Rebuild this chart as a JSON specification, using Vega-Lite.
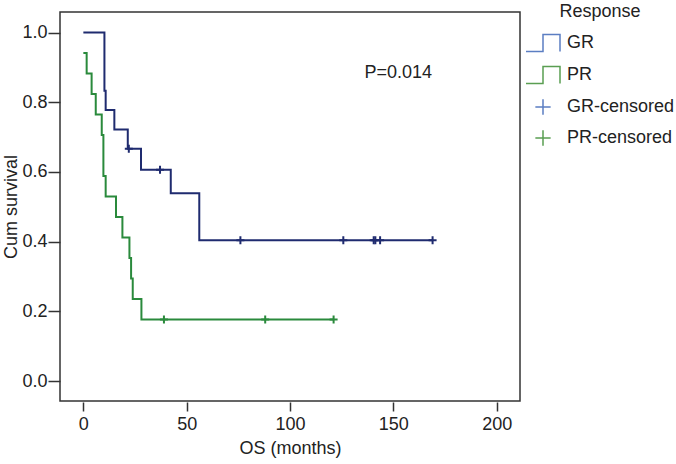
{
  "$schema": "https://vega.github.io/schema/vega-lite/v6.json",
  "width": 460,
  "height": 389,
  "autosize": {"type": "none"},
  "padding": {"left": 60, "top": 12, "right": 156, "bottom": 63},
  "background": "white",
  "config": {
    "view": {"stroke": "#333333", "strokeWidth": 1.5},
    "font": "Liberation Sans",
    "axis": {
      "grid": false,
      "domain": false,
      "tickColor": "#333333",
      "tickWidth": 1.5,
      "labelFont": "Liberation Sans",
      "labelFontSize": 18,
      "labelColor": "#222222",
      "titleFont": "Liberation Sans",
      "titleFontSize": 18,
      "titleFontWeight": "normal",
      "titleColor": "#222222"
    },
    "legend": {
      "labelFont": "Liberation Sans",
      "titleFont": "Liberation Sans"
    }
  },
  "datasets": {
    "curves": [
      {"series": "GR", "time": 0, "surv": 1.0},
      {"series": "GR", "time": 10.2, "surv": 0.8333},
      {"series": "GR", "time": 10.8, "surv": 0.7778},
      {"series": "GR", "time": 15.0, "surv": 0.7222},
      {"series": "GR", "time": 21.5, "surv": 0.6667},
      {"series": "GR", "time": 27.9, "surv": 0.6061},
      {"series": "GR", "time": 42.3, "surv": 0.5387},
      {"series": "GR", "time": 56.1, "surv": 0.404},
      {"series": "GR", "time": 169, "surv": 0.404},
      {"series": "PR", "time": 0, "surv": 0.9412},
      {"series": "PR", "time": 1.6, "surv": 0.8824},
      {"series": "PR", "time": 4.0, "surv": 0.8235},
      {"series": "PR", "time": 6.0, "surv": 0.7647},
      {"series": "PR", "time": 8.9, "surv": 0.7059},
      {"series": "PR", "time": 9.7, "surv": 0.5882},
      {"series": "PR", "time": 10.8, "surv": 0.5294},
      {"series": "PR", "time": 15.8, "surv": 0.4706},
      {"series": "PR", "time": 18.9, "surv": 0.4118},
      {"series": "PR", "time": 22.3, "surv": 0.3529},
      {"series": "PR", "time": 23.1, "surv": 0.2941},
      {"series": "PR", "time": 23.9, "surv": 0.2353},
      {"series": "PR", "time": 28.1, "surv": 0.1765},
      {"series": "PR", "time": 121.1, "surv": 0.1765}
    ],
    "censored": [
      {"series": "GR-censored", "time": 22.0, "surv": 0.6667},
      {"series": "GR-censored", "time": 37.1, "surv": 0.6061},
      {"series": "GR-censored", "time": 76.0, "surv": 0.404},
      {"series": "GR-censored", "time": 125.8, "surv": 0.404},
      {"series": "GR-censored", "time": 140.5, "surv": 0.404},
      {"series": "GR-censored", "time": 141.3, "surv": 0.404},
      {"series": "GR-censored", "time": 143.6, "surv": 0.404},
      {"series": "GR-censored", "time": 169.0, "surv": 0.404},
      {"series": "PR-censored", "time": 39.0, "surv": 0.1765},
      {"series": "PR-censored", "time": 88.0, "surv": 0.1765},
      {"series": "PR-censored", "time": 121.1, "surv": 0.1765}
    ],
    "annot": [
      {"time": 152.4, "surv": 0.883, "label": "P=0.014"}
    ],
    "legendrows": [
      {"series": "GR"},
      {"series": "PR"},
      {"series": "GR-censored"},
      {"series": "PR-censored"}
    ]
  },
  "layer": [
    {
      "data": {"name": "curves"},
      "mark": {"type": "line", "interpolate": "step-after", "strokeWidth": 2},
      "encoding": {
        "x": {
          "field": "time",
          "type": "quantitative",
          "scale": {"domain": [-11.3, 211.3], "nice": false, "zero": false},
          "axis": {
            "values": [0, 50, 100, 150, 200],
            "tickSize": 9,
            "offset": 1,
            "labelPadding": 4,
            "title": "OS (months)",
            "titlePadding": 6
          }
        },
        "y": {
          "field": "surv",
          "type": "quantitative",
          "scale": {"domain": [-0.057, 1.059], "nice": false, "zero": false},
          "axis": {
            "values": [0, 0.2, 0.4, 0.6, 0.8, 1.0],
            "format": ".1f",
            "tickSize": 12,
            "labelPadding": 1,
            "title": "Cum survival",
            "titlePadding": 1
          }
        },
        "stroke": {
          "field": "series",
          "type": "nominal",
          "scale": {
            "domain": ["GR", "GR-censored", "PR", "PR-censored"],
            "range": ["#1f2b6f", "#1f2b6f", "#2a8a3c", "#2a8a3c"]
          },
          "legend": null
        }
      }
    },
    {
      "data": {"name": "censored"},
      "mark": {"type": "point", "shape": "M-1,0H1M0,-1V1", "size": 64, "filled": false, "strokeWidth": 2, "opacity": 1},
      "encoding": {
        "x": {"field": "time", "type": "quantitative"},
        "y": {"field": "surv", "type": "quantitative"},
        "stroke": {"field": "series", "type": "nominal", "legend": null}
      }
    },
    {
      "data": {"name": "annot"},
      "mark": {"type": "text", "fontSize": 18, "align": "center", "baseline": "middle", "color": "#222222", "font": "Liberation Sans"},
      "encoding": {
        "x": {"field": "time", "type": "quantitative"},
        "y": {"field": "surv", "type": "quantitative"},
        "text": {"field": "label"}
      }
    },
    {
      "data": {"name": "legendrows"},
      "transform": [{"filter": "false"}],
      "mark": {"type": "point", "filled": false, "strokeWidth": 1.5, "opacity": 1},
      "encoding": {
        "color": {
          "field": "series",
          "type": "nominal",
          "scale": {
            "domain": ["GR", "PR", "GR-censored", "PR-censored"],
            "range": ["#5b7ec2", "#5a9e52", "#5b7ec2", "#5a9e52"]
          },
          "legend": {
            "orient": "none",
            "legendX": 465,
            "legendY": -9,
            "title": "Response",
            "titleFontSize": 18,
            "titleFontWeight": "normal",
            "titleColor": "#222222",
            "titleAnchor": "middle",
            "labelFontSize": 18,
            "labelColor": "#222222",
            "labelOffset": 6,
            "rowPadding": 2,
            "titlePadding": 4,
            "symbolStrokeWidth": 1.5
          }
        },
        "shape": {
          "field": "series",
          "type": "nominal",
          "scale": {
            "domain": ["GR", "PR", "GR-censored", "PR-censored"],
            "range": ["M-1,0.5H0V-0.5H1V0.5", "M-1,0.5H0V-0.5H1V0.5", "M-0.45,0H0.45M0,-0.45V0.45", "M-0.45,0H0.45M0,-0.45V0.45"]
          }
        },
        "size": {
          "field": "series",
          "type": "nominal",
          "scale": {
            "domain": ["GR", "PR", "GR-censored", "PR-censored"],
            "range": [1156, 1156, 1156, 1156]
          }
        }
      }
    }
  ]
}
